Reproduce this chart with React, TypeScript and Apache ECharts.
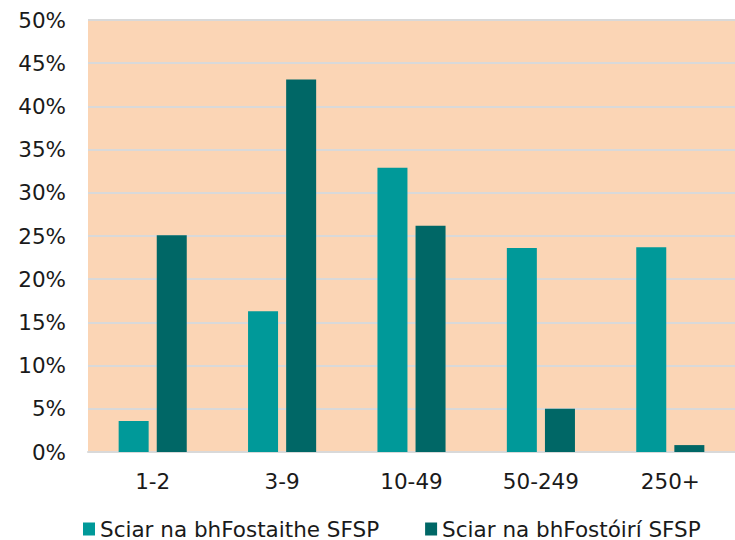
import React, { useEffect, useRef } from "react";
import * as echarts from "echarts";

const categories = ["1-2", "3-9", "10-49", "50-249", "250+"];
const seriesNames = ["Sciar na bhFostaithe SFSP", "Sciar na bhFostóirí SFSP"];
const employees = [3.6, 16.3, 32.9, 23.6, 23.7];
const employers = [25.1, 43.1, 26.2, 5.0, 0.8];

export default function App() {
  const ref = useRef<HTMLDivElement>(null);
  useEffect(() => {
    const chart = echarts.init(ref.current!, null, { renderer: "svg" });
    const font = "DejaVu Sans, Verdana, sans-serif";
    const fs = 21.5;
    chart.setOption({
      animation: false,
      textStyle: { fontFamily: font },
      grid: { left: 88, right: 0, top: 20, bottom: 88, backgroundColor: "#FBD5B5", show: true, borderWidth: 0 },
      legend: {
        top: 513,
        left: 78,
        itemWidth: 12,
        itemHeight: 13,
        itemGap: 46,
        icon: "rect",
        textStyle: { fontSize: fs, color: "#1a1a1a", fontFamily: font },
        data: seriesNames,
      },
      xAxis: {
        type: "category",
        data: categories,
        axisTick: { show: false },
        axisLine: { lineStyle: { color: "#D9D9D9", width: 2 } },
        axisLabel: { fontSize: fs, color: "#1a1a1a", margin: 18 },
      },
      yAxis: {
        type: "value",
        min: 0,
        max: 50,
        interval: 5,
        axisLabel: { formatter: "{value}%", fontSize: fs, color: "#1a1a1a", margin: 22 },
        splitLine: { lineStyle: { color: "#D9D9D9", width: 2 } },
        axisLine: { show: false },
      },
      series: [
        { name: seriesNames[0], type: "bar", data: employees, barWidth: 30, barGap: "27%", itemStyle: { color: "#009999" } },
        { name: seriesNames[1], type: "bar", data: employers, barWidth: 30, itemStyle: { color: "#006766" } },
      ],
    });
    return () => chart.dispose();
  }, []);
  return <div ref={ref} style={{ width: 735, height: 540, position: "absolute", left: 0, top: 0 }} />;
}
